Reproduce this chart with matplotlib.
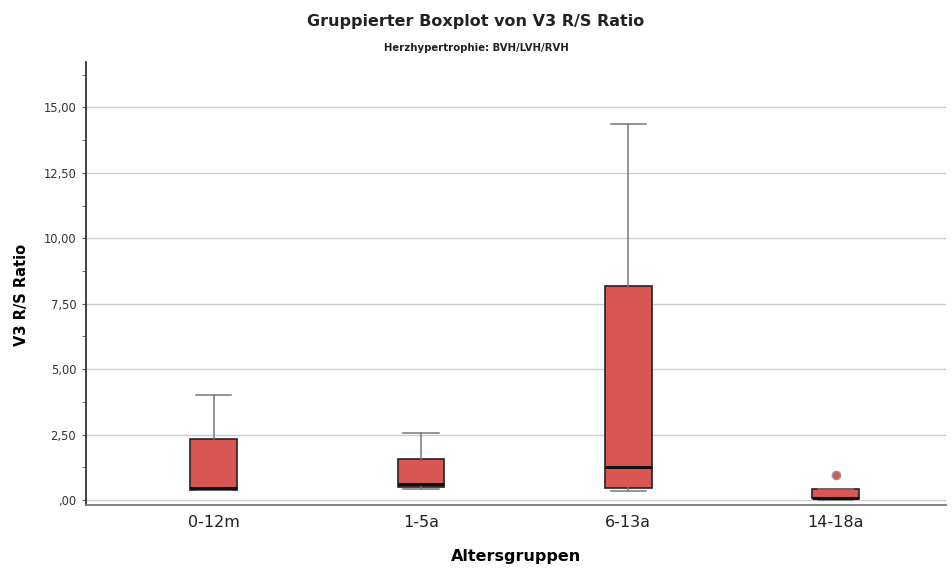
import numpy as np
import matplotlib
matplotlib.use("Agg")
import matplotlib.pyplot as plt
from matplotlib.ticker import FuncFormatter, MultipleLocator

# values
groups = ["0-12m", "1-5a", "6-13a", "14-18a"]
whislo = [0.38, 0.41, 0.34, 0.02]
q1 = [0.38, 0.51, 0.45, 0.06]
med = [0.45, 0.61, 1.27, 0.08]
q3 = [2.32, 1.57, 8.19, 0.41]
whishi = [4.01, 2.55, 14.35, 0.41]
outliers = [[], [], [], [0.97]]

plt.rcParams['font.family'] = ['DejaVu Sans']

fig = plt.figure(figsize=(9.52, 5.70), dpi=100)
ax = fig.add_axes([0.0903, 0.114, 0.903, 0.777])

stats = []
for i in range(len(groups)):
    stats.append(dict(label=groups[i], whislo=whislo[i], q1=q1[i], med=med[i],
                      q3=q3[i], whishi=whishi[i], fliers=outliers[i]))

ax.bxp(stats, positions=range(len(groups)), widths=0.225, patch_artist=True,
       boxprops=dict(facecolor="#D95752", edgecolor="#222222", linewidth=1.2),
       medianprops=dict(color="#111111", linewidth=2.2),
       whiskerprops=dict(color="#777777", linewidth=1.1),
       capprops=dict(color="#777777", linewidth=1.1),
       capwidths=0.17,
       flierprops=dict(marker="o", markerfacecolor="#D95752", markeredgecolor="#999999",
                       markersize=6, linestyle="none"))

ax.set_xlim(-0.615, 3.53)
ax.set_ylim(-0.19, 16.73)
ax.yaxis.set_major_locator(MultipleLocator(2.5))
ax.yaxis.set_minor_locator(MultipleLocator(1.25))

def fmt(v, pos):
    s = f"{v:.2f}".replace(".", ",")
    if s.startswith("0,"):
        s = s[1:]
    return s

ax.yaxis.set_major_formatter(FuncFormatter(fmt))
ax.set_axisbelow(True)
ax.yaxis.grid(True, color="#cccccc", linewidth=1.0)

for s in ["top", "right"]:
    ax.spines[s].set_visible(False)
ax.spines["left"].set_color("#333333")
ax.spines["left"].set_linewidth(1.3)
ax.spines["bottom"].set_color("#777777")
ax.spines["bottom"].set_linewidth(1.3)

ax.tick_params(axis="y", which="major", labelsize=8.3, length=3, color="#555555", labelcolor="#333333", pad=4)
ax.tick_params(axis="y", which="minor", length=3, color="#555555")
ax.tick_params(axis="x", length=0, labelsize=11.5, labelcolor="#222222", pad=7)

ax.set_ylabel("V3 R/S Ratio", fontsize=10.5, fontweight="bold")
ax.yaxis.set_label_coords(-0.066, 0.474)
ax.set_xlabel("Altersgruppen", fontsize=11.5, fontweight="bold", labelpad=14)

fig.text(0.5, 0.963, "Gruppierter Boxplot von V3 R/S Ratio", ha="center", va="center",
         fontsize=11.5, fontweight="bold", color="#222222")
fig.text(0.5, 0.915, "Herzhypertrophie: BVH/LVH/RVH", ha="center", va="center",
         fontsize=7.3, fontweight="bold", color="#222222")

fig.savefig("out.png", dpi=100)
